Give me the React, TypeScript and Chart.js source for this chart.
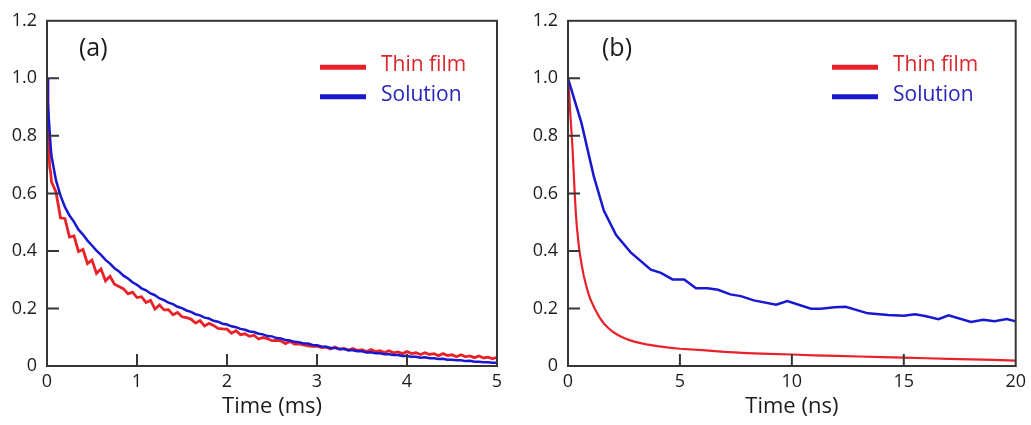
import { useEffect, useRef } from "react";
import { Chart, registerables } from "chart.js";

Chart.register(...registerables);

const seriesNames = ["Thin film", "Solution"];

// Panel (a): decay on the millisecond scale
const timeMs = [
  0, 0.01, 0.02, 0.03, 0.04, 0.05, 0.1, 0.15, 0.2, 0.25, 0.3, 0.35, 0.4, 0.45, 0.5, 0.55, 0.6, 0.65, 0.7, 0.75,
  0.8, 0.85, 0.9, 0.95, 1.0, 1.05, 1.1, 1.15, 1.2, 1.25, 1.3, 1.35, 1.4, 1.45, 1.5, 1.55, 1.6, 1.65, 1.7, 1.75,
  1.8, 1.85, 1.9, 1.95, 2.0, 2.05, 2.1, 2.15, 2.2, 2.25, 2.3, 2.35, 2.4, 2.45, 2.5, 2.55, 2.6, 2.65, 2.7, 2.75,
  2.8, 2.85, 2.9, 2.95, 3.0, 3.05, 3.1, 3.15, 3.2, 3.25, 3.3, 3.35, 3.4, 3.45, 3.5, 3.55, 3.6, 3.65, 3.7, 3.75,
  3.8, 3.85, 3.9, 3.95, 4.0, 4.05, 4.1, 4.15, 4.2, 4.25, 4.3, 4.35, 4.4, 4.45, 4.5, 4.55, 4.6, 4.65, 4.7, 4.75,
  4.8, 4.85, 4.9, 4.95, 5.0,
];
const filmMs = [
  1.0, 0.85, 0.77, 0.69, 0.675, 0.64, 0.605, 0.515, 0.512, 0.448, 0.452, 0.398, 0.405, 0.356, 0.368, 0.322, 0.337, 0.296, 0.312, 0.284,
  0.276, 0.268, 0.251, 0.257, 0.238, 0.241, 0.221, 0.228, 0.198, 0.212, 0.195, 0.196, 0.178, 0.186, 0.171, 0.168, 0.163, 0.149, 0.158, 0.139,
  0.148, 0.141, 0.131, 0.129, 0.128, 0.114, 0.123, 0.109, 0.112, 0.103, 0.107, 0.094, 0.099, 0.095, 0.088, 0.089, 0.087, 0.078, 0.085, 0.076,
  0.077, 0.073, 0.07, 0.068, 0.069, 0.064, 0.066, 0.059, 0.066, 0.058, 0.061, 0.055, 0.061, 0.054, 0.057, 0.05, 0.057, 0.05, 0.053, 0.047,
  0.053, 0.046, 0.049, 0.043, 0.05, 0.043, 0.046, 0.04, 0.046, 0.04, 0.043, 0.036, 0.043, 0.036, 0.039, 0.032, 0.039, 0.032, 0.035, 0.029,
  0.035, 0.028, 0.031, 0.025, 0.03,
];
const solutionMs = [
  1.0, 0.92, 0.86, 0.815, 0.765, 0.73, 0.645, 0.592, 0.552, 0.523, 0.501, 0.474, 0.457, 0.436, 0.419, 0.401, 0.386, 0.369, 0.356, 0.34,
  0.329, 0.314, 0.304, 0.291, 0.282, 0.27, 0.263, 0.252, 0.246, 0.235, 0.229, 0.22, 0.215, 0.206, 0.201, 0.193, 0.188, 0.18, 0.176, 0.168,
  0.165, 0.157, 0.154, 0.147, 0.144, 0.138, 0.135, 0.129, 0.126, 0.12, 0.118, 0.112, 0.11, 0.104, 0.103, 0.097, 0.096, 0.09, 0.089, 0.084,
  0.083, 0.078, 0.078, 0.073, 0.072, 0.068, 0.067, 0.063, 0.063, 0.059, 0.059, 0.055, 0.055, 0.051, 0.051, 0.047, 0.048, 0.044, 0.044, 0.041,
  0.041, 0.038, 0.038, 0.035, 0.035, 0.032, 0.032, 0.029, 0.03, 0.027, 0.027, 0.024, 0.025, 0.022, 0.022, 0.02, 0.02, 0.017, 0.018, 0.015,
  0.015, 0.013, 0.013, 0.011, 0.011,
];

// Panel (b): decay on the nanosecond scale
const timeFilmNs = [
  0, 0.05, 0.1, 0.15, 0.2, 0.25, 0.3, 0.35, 0.4, 0.5, 0.6, 0.7, 0.8, 0.9, 1.0, 1.2, 1.4, 1.6, 1.8, 2.0, 2.25, 2.5,
  2.75, 3.0, 3.5, 4.0, 4.5, 5, 6, 7, 8, 9, 10, 11, 12, 13, 14, 15, 16, 17, 18, 19, 20,
];
const filmNs = [
  1.0, 0.95, 0.88, 0.82, 0.76, 0.68, 0.6, 0.53, 0.48, 0.405, 0.356, 0.315, 0.283, 0.255, 0.232, 0.198, 0.17, 0.148, 0.132, 0.119, 0.107, 0.097,
  0.09, 0.084, 0.075, 0.069, 0.064, 0.06, 0.055, 0.049, 0.045, 0.042, 0.04, 0.037, 0.035, 0.033, 0.031, 0.029, 0.027, 0.025, 0.023, 0.021, 0.019,
];
const timeSolutionNs = [
  0, 0.6, 1.15, 1.6, 2.15, 2.8, 3.7, 4.15, 4.67, 5.19, 5.72, 6.24, 6.7, 7.25, 7.72, 8.3, 9.3, 9.8, 10.85, 11.3,
  11.9, 12.4, 13.4, 14.3, 15.0, 15.5, 15.95, 16.55, 17.0, 18.0, 18.55, 19.05, 19.6, 20,
];
const solutionNs = [
  1.0, 0.845, 0.66, 0.54, 0.455, 0.395, 0.335, 0.324, 0.301, 0.301, 0.27, 0.27, 0.265, 0.249, 0.243, 0.228, 0.213, 0.226, 0.199, 0.199,
  0.204, 0.206, 0.183, 0.177, 0.175, 0.18, 0.174, 0.163, 0.176, 0.153, 0.161, 0.156, 0.163, 0.155,
];

const yTicks = [0, 0.2, 0.4, 0.6, 0.8, 1.0, 1.2];

const FONT = "'Open Sans', 'Noto Sans', sans-serif";
const TEXT = "#1e1b1c";
const AXIS = "#363636";
const LINE_COLORS = ["#e9222a", "#1818d0"];
const LABEL_COLORS = ["#dc272e", "#2626bc"];
const TICK_LEN = 12;

// Draws the boxed frame, inward tick marks, the panel tag and the in-plot legend.
const panelDecor = {
  id: "panelDecor",
  afterDatasetsDraw(chart: any, _args: any, opts: any) {
    const { ctx, chartArea: a, scales } = chart;
    ctx.save();
    ctx.strokeStyle = AXIS;
    ctx.lineWidth = 2;
    ctx.lineCap = "butt";
    ctx.beginPath();
    scales.x.ticks.forEach((t: any) => {
      const px = scales.x.getPixelForValue(t.value);
      if (px > a.left + 1 && px < a.right - 1) {
        ctx.moveTo(px, a.bottom);
        ctx.lineTo(px, a.bottom - TICK_LEN);
      }
    });
    scales.y.ticks.forEach((t: any) => {
      const py = scales.y.getPixelForValue(t.value);
      if (py > a.top + 1 && py < a.bottom - 1) {
        ctx.moveTo(a.left, py);
        ctx.lineTo(a.left + TICK_LEN, py);
      }
    });
    ctx.stroke();
    ctx.strokeRect(a.left, a.top, a.right - a.left, a.bottom - a.top);

    ctx.fillStyle = TEXT;
    ctx.font = `25px ${FONT}`;
    ctx.textAlign = "left";
    ctx.textBaseline = "middle";
    ctx.fillText(opts.tag, a.left + opts.tagDx, a.top + 28);

    chart.data.datasets.forEach((ds: any, i: number) => {
      const y = a.top + 46.5 + i * 29.5;
      const x0 = a.left + opts.legendDx;
      ctx.strokeStyle = ds.borderColor;
      ctx.lineWidth = 5;
      ctx.beginPath();
      ctx.moveTo(x0, y);
      ctx.lineTo(x0 + 46, y);
      ctx.stroke();
      ctx.fillStyle = LABEL_COLORS[i];
      ctx.font = `21px ${FONT}`;
      ctx.fillText(ds.label, x0 + 61, y - 2);
    });
    ctx.restore();
  },
};

type PanelProps = {
  left: number;
  width: number;
  filmT: number[];
  film: number[];
  solT: number[];
  sol: number[];
  xMax: number;
  xStep: number;
  xTitle: string;
  yWidth: number;
  padRight: number;
  tag: string;
  tagDx: number;
  legendDx: number;
  filmWidth: number;
};

function Panel(p: PanelProps) {
  const ref = useRef<HTMLCanvasElement | null>(null);
  useEffect(() => {
    if (!ref.current) return;
    const chart = new Chart(ref.current, {
      type: "line",
      data: {
        datasets: [
          {
            label: seriesNames[0],
            data: p.filmT.map((x, i) => ({ x, y: p.film[i] })),
            borderColor: LINE_COLORS[0],
            borderWidth: p.filmWidth,
            pointRadius: 0,
            tension: 0,
            order: 1,
          },
          {
            label: seriesNames[1],
            data: p.solT.map((x, i) => ({ x, y: p.sol[i] })),
            borderColor: LINE_COLORS[1],
            borderWidth: 2.5,
            pointRadius: 0,
            tension: 0,
            order: 0,
          },
        ],
      },
      options: {
        animation: false,
        responsive: false,
        events: [],
        layout: { padding: { top: 13, right: p.padRight, left: 0, bottom: 0 } },
        plugins: {
          legend: { display: false },
          tooltip: { enabled: false },
          panelDecor: { tag: p.tag, tagDx: p.tagDx, legendDx: p.legendDx },
        } as any,
        scales: {
          x: {
            type: "linear",
            min: 0,
            max: p.xMax,
            ticks: {
              stepSize: p.xStep,
              autoSkip: false,
              maxRotation: 0,
              padding: 5,
              color: TEXT,
              font: { family: FONT, size: 18 },
              callback: (v: any) => String(v),
            },
            grid: { display: false, drawTicks: false },
            border: { display: false },
            title: {
              display: true,
              text: p.xTitle,
              color: TEXT,
              font: { family: FONT, size: 22 },
              padding: { top: 0, bottom: 5 },
            },
            afterFit: (s: any) => {
              s.height = 59;
            },
          },
          y: {
            type: "linear",
            min: 0,
            max: 1.2,
            afterBuildTicks: (s: any) => {
              s.ticks = yTicks.map((value) => ({ value }));
            },
            ticks: {
              padding: 10,
              color: TEXT,
              font: { family: FONT, size: 18 },
              callback: (v: any) => (Number(v) === 0 ? "0" : Number(v).toFixed(1)),
            },
            grid: { display: false, drawTicks: false },
            border: { display: false },
            afterFit: (s: any) => {
              s.width = p.yWidth;
            },
          },
        },
      } as any,
      plugins: [panelDecor as any],
    });
    return () => chart.destroy();
  }, []);
  return (
    <canvas
      ref={ref}
      width={p.width}
      height={425}
      style={{ position: "absolute", left: p.left, top: 0, width: p.width, height: 425, display: "block" }}
    />
  );
}

export default function App() {
  return (
    <div style={{ position: "fixed", left: 0, top: 0, width: 1031, height: 425, background: "#fff", overflow: "hidden" }}>
      <Panel
        left={0}
        width={520}
        filmT={timeMs}
        film={filmMs}
        solT={timeMs}
        sol={solutionMs}
        xMax={5}
        xStep={1}
        xTitle="Time (ms)"
        yWidth={47}
        padRight={23}
        tag="(a)"
        tagDx={32}
        legendDx={273}
        filmWidth={2.8}
      />
      <Panel
        left={520}
        width={511}
        filmT={timeFilmNs}
        film={filmNs}
        solT={timeSolutionNs}
        sol={solutionNs}
        xMax={20}
        xStep={5}
        xTitle="Time (ns)"
        yWidth={48}
        padRight={14}
        tag="(b)"
        tagDx={34}
        legendDx={264}
        filmWidth={2.2}
      />
    </div>
  );
}
